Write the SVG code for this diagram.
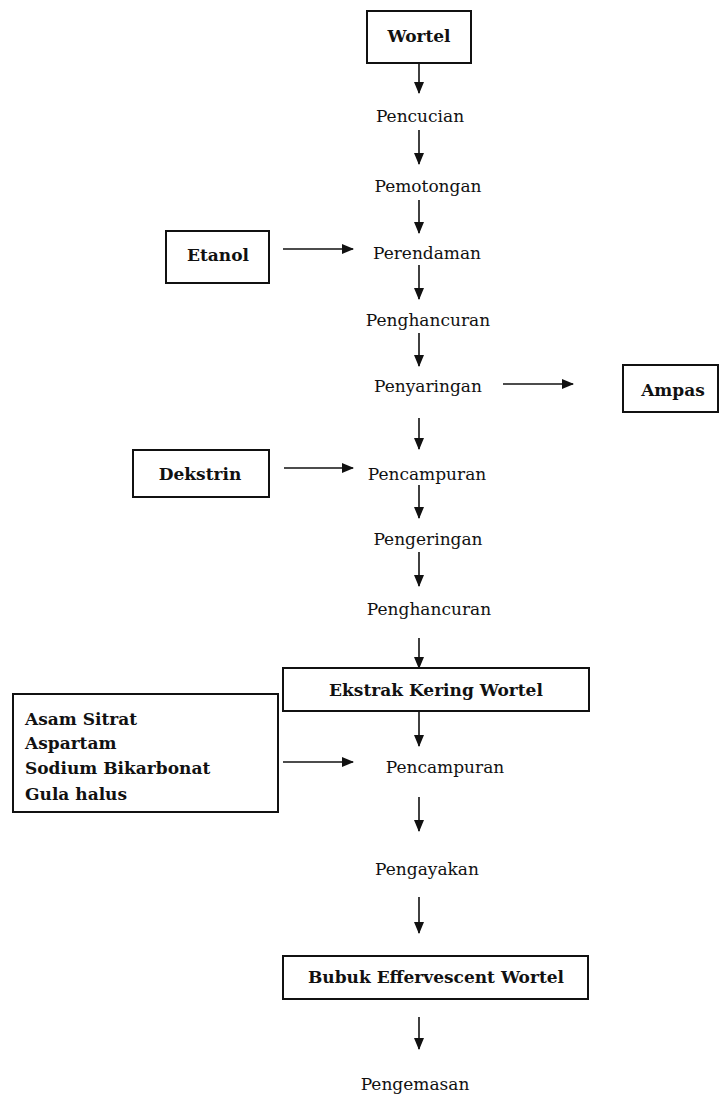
<svg xmlns="http://www.w3.org/2000/svg" width="720" height="1099" viewBox="0 0 720 1099">
<style>
.t{font-family:"DejaVu Serif","Liberation Serif",serif;font-size:17px;fill:#111;text-anchor:middle}
.b{font-weight:bold}
.l{text-anchor:start}
.box{fill:#fff;stroke:#111;stroke-width:2}
.c{stroke:#111;stroke-width:1.6;fill:none;marker-end:url(#ah)}
</style>
<defs>
<marker id="ah" markerUnits="userSpaceOnUse" markerWidth="12" markerHeight="10" refX="11" refY="5" orient="auto">
<path d="M0,0 L12,5 L0,10 Z" fill="#111"/>
</marker>
</defs>
<rect width="720" height="1099" fill="#fff"/>
<g id="connectors">
<line class="c" x1="419" y1="63" x2="419" y2="93"/>
<line class="c" x1="419" y1="130" x2="419" y2="164"/>
<line class="c" x1="419" y1="200" x2="419" y2="233"/>
<line class="c" x1="283" y1="249" x2="353" y2="249"/>
<line class="c" x1="419" y1="265" x2="419" y2="299"/>
<line class="c" x1="419" y1="333" x2="419" y2="366"/>
<line class="c" x1="503" y1="384" x2="573" y2="384"/>
<line class="c" x1="419" y1="418" x2="419" y2="449"/>
<line class="c" x1="284" y1="468" x2="353" y2="468"/>
<line class="c" x1="419" y1="485" x2="419" y2="518"/>
<line class="c" x1="419" y1="552" x2="419" y2="586"/>
<line class="c" x1="419" y1="638" x2="419" y2="668"/>
<line class="c" x1="419" y1="711" x2="419" y2="746"/>
<line class="c" x1="283" y1="762" x2="353" y2="762"/>
<line class="c" x1="419" y1="797" x2="419" y2="831"/>
<line class="c" x1="419" y1="897" x2="419" y2="933"/>
<line class="c" x1="419" y1="1017" x2="419" y2="1049"/>
</g>
<g id="wortel"><rect class="box" x="367" y="11" width="104" height="52"/><text class="t b" x="419" y="42">Wortel</text></g>
<g id="pencucian"><text class="t" x="420" y="122">Pencucian</text></g>
<g id="pemotongan"><text class="t" x="428" y="192">Pemotongan</text></g>
<g id="etanol"><rect class="box" x="166" y="231" width="103" height="52"/><text class="t b" x="218" y="261">Etanol</text></g>
<g id="perendaman"><text class="t" x="427" y="259">Perendaman</text></g>
<g id="penghancuran1"><text class="t" x="428" y="326">Penghancuran</text></g>
<g id="penyaringan"><text class="t" x="428" y="392">Penyaringan</text></g>
<g id="ampas"><rect class="box" x="623" y="365" width="95" height="47"/><text class="t b" x="673" y="396">Ampas</text></g>
<g id="dekstrin"><rect class="box" x="133" y="450" width="136" height="47"/><text class="t b" x="200" y="480">Dekstrin</text></g>
<g id="pencampuran1"><text class="t" x="427" y="480">Pencampuran</text></g>
<g id="pengeringan"><text class="t" x="428" y="545">Pengeringan</text></g>
<g id="penghancuran2"><text class="t" x="429" y="615">Penghancuran</text></g>
<g id="ekstrak"><rect class="box" x="283" y="668" width="306" height="43"/><text class="t b" x="436" y="696">Ekstrak Kering Wortel</text></g>
<g id="bahan"><rect class="box" x="13" y="694" width="265" height="118"/>
<text class="t b l" x="25" y="725">Asam Sitrat</text>
<text class="t b l" x="25" y="749">Aspartam</text>
<text class="t b l" x="25" y="774">Sodium Bikarbonat</text>
<text class="t b l" x="25" y="800">Gula halus</text></g>
<g id="pencampuran2"><text class="t" x="445" y="773">Pencampuran</text></g>
<g id="pengayakan"><text class="t" x="427" y="875">Pengayakan</text></g>
<g id="bubuk"><rect class="box" x="283" y="956" width="305" height="43"/><text class="t b" x="436" y="983">Bubuk Effervescent Wortel</text></g>
<g id="pengemasan"><text class="t" x="415" y="1090">Pengemasan</text></g>
</svg>
